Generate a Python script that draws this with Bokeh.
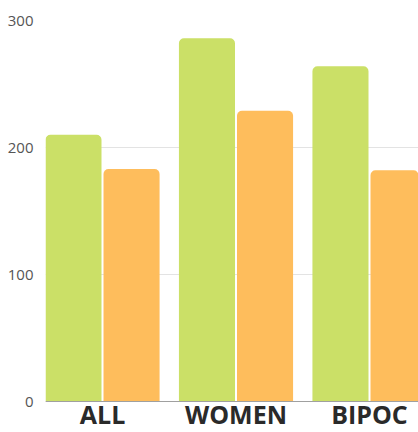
from bokeh.plotting import figure
from bokeh.models import ColumnDataSource, Range1d, FixedTicker, Span
from bokeh.core.properties import value
from bokeh.transform import dodge
from bokeh.embed import file_html
from bokeh.resources import INLINE

categories = ["ALL", "WOMEN", "BIPOC"]
series_a = [210, 286, 264]
series_b = [183, 229, 182]
y_ticks = [0, 100, 200, 300]

GREEN = "#cbe067"
ORANGE = "#febd5c"

idx = list(range(len(categories)))
src = ColumnDataSource(dict(x=idx, a=series_a, b=series_b, name=categories,
                            base=[0] * len(categories)))

p = figure(width=418, height=432, output_backend="svg", toolbar_location=None,
           x_range=Range1d(-0.427, 2.367), y_range=Range1d(-24.4, 300),
           min_border_left=45, min_border_right=0, min_border_top=20, min_border_bottom=0)
p.outline_line_color = None
p.background_fill_color = "white"
p.border_fill_color = "white"

p.xgrid.grid_line_color = None
p.ygrid.grid_line_color = "#e3e3e3"
p.ygrid.ticker = FixedTicker(ticks=y_ticks)

p.add_layout(Span(location=0, dimension="width", line_color="#a0a0a0", line_width=1))

p.vbar(x=dodge("x", -0.2175, range=p.x_range), top="a", width=0.42, bottom="base",
       source=src, fill_color=GREEN, line_color=None, border_radius=(5, 5, 0, 0))
p.vbar(x=dodge("x", 0.2175, range=p.x_range), top="b", width=0.42, bottom="base",
       source=src, fill_color=ORANGE, line_color=None, border_radius=(5, 5, 0, 0))

p.text(x="x", y="base", text="name", source=src, y_offset=12,
       text_font=value("Open Sans"), text_font_style="bold",
       text_font_size="25px", text_color="#2a2a2a",
       text_align="center", text_baseline="alphabetic")

p.yaxis.ticker = FixedTicker(ticks=y_ticks)
p.yaxis.axis_line_color = None
p.yaxis.major_tick_line_color = None
p.yaxis.minor_tick_line_color = None
p.yaxis.major_tick_out = 0
p.yaxis.major_label_text_font = "Open Sans"
p.yaxis.major_label_text_font_size = "15px"
p.yaxis.major_label_text_color = "#555555"
p.yaxis.major_label_standoff = 12

p.xaxis.visible = False

open("out.html", "w").write(file_html(p, INLINE))
